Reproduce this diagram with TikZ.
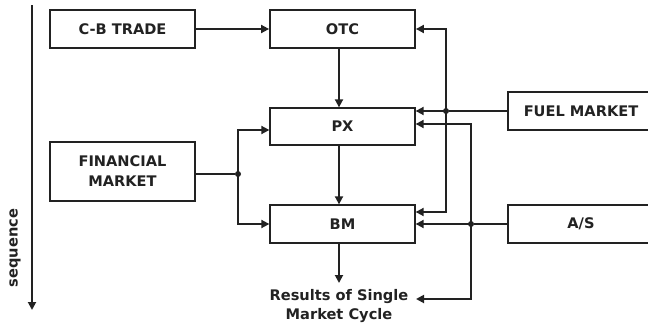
\documentclass[tikz,border=0pt]{standalone}
\usepackage{fontspec}
\setmainfont{DejaVu Sans}
\usetikzlibrary{arrows.meta}
\definecolor{ink}{HTML}{222222}
\begin{document}
\begin{tikzpicture}[x=1pt,y=-1pt,
  box/.style={draw=ink,line width=1.8pt,minimum width=145pt,inner sep=0pt,align=center,
    font=\fontsize{14.6}{20}\selectfont\bfseries,text=ink},
  thinbox/.style={box,line width=1.3pt},
  conn/.style={draw=ink,line width=1.8pt},
  arr/.style={conn,-{Triangle[length=8pt,width=8pt]}},
  dot/.style={circle,fill=ink,inner sep=0pt,minimum size=6pt},
  lbl/.style={font=\fontsize{14.6}{19}\selectfont\bfseries,text=ink,align=center,inner sep=0pt}]
\useasboundingbox (0,0) rectangle (648,324);
\begin{scope}
\clip (0,0) rectangle (648,324);
% boxes
\node[box,minimum height=38pt] (cb) at (122.5,29) {C-B TRADE};
\node[box,minimum height=38pt] (otc) at (342.5,29) {OTC};
\node[thinbox,minimum height=37pt] (px) at (342.5,126.5) {PX};
\node[box,minimum height=59pt] (fin) at (122.5,171.5) {FINANCIAL\\MARKET};
\node[thinbox,minimum height=38pt] (bm) at (342.5,224) {BM};
\node[box,minimum width=146pt,minimum height=38pt] (fuel) at (581,111) {FUEL MARKET};
\node[box,minimum width=146pt,minimum height=38pt] (as) at (581,224) {A/S};
\node[lbl] (res) at (339,306.5) {Results of Single\\Market Cycle};
% sequence arrow
\coordinate (seqtop) at (32,5);
\coordinate (seqbot) at (32,310);
\draw[arr] (seqtop) -- (seqbot);
\node[lbl,rotate=90] (seq) at (15,248) {sequence};
% main flow
\draw[arr] (cb.east) -- (otc.west);
\draw[arr] ([xshift=-3.5pt]otc.south) -- ([xshift=-3.5pt]px.north);
\draw[arr] ([xshift=-3.5pt]px.south) -- ([xshift=-3.5pt]bm.north);
\coordinate (resin) at (339,283);
\draw[arr] ([xshift=-3.5pt]bm.south) -- (resin);
% financial market
\node[dot] (j1) at (238,174) {};
\draw[conn] (fin.east |- j1) -- (j1);
\draw[arr] (j1.center) |- ([yshift=-3.5pt]px.west);
\draw[arr] (j1.center) |- (bm.west);
% fuel market
\node[dot] (j2) at (446,111) {};
\draw[conn] (fuel.west) -- (j2);
\draw[arr] (j2.center) -- (px.east |- j2);
\draw[arr] (j2.center) |- (otc.east);
\draw[arr] (j2.center) |- ([yshift=12pt]bm.east);
% A/S
\node[dot] (j3) at (471,224) {};
\draw[conn] (as.west) -- (j3);
\draw[arr] (j3.center) -- (bm.east);
\draw[arr] (j3.center) |- ([yshift=2.5pt]px.east);
\coordinate (resr) at (416,299);
\draw[arr] (j3.center) |- (resr);
\end{scope}
\end{tikzpicture}
\end{document}
